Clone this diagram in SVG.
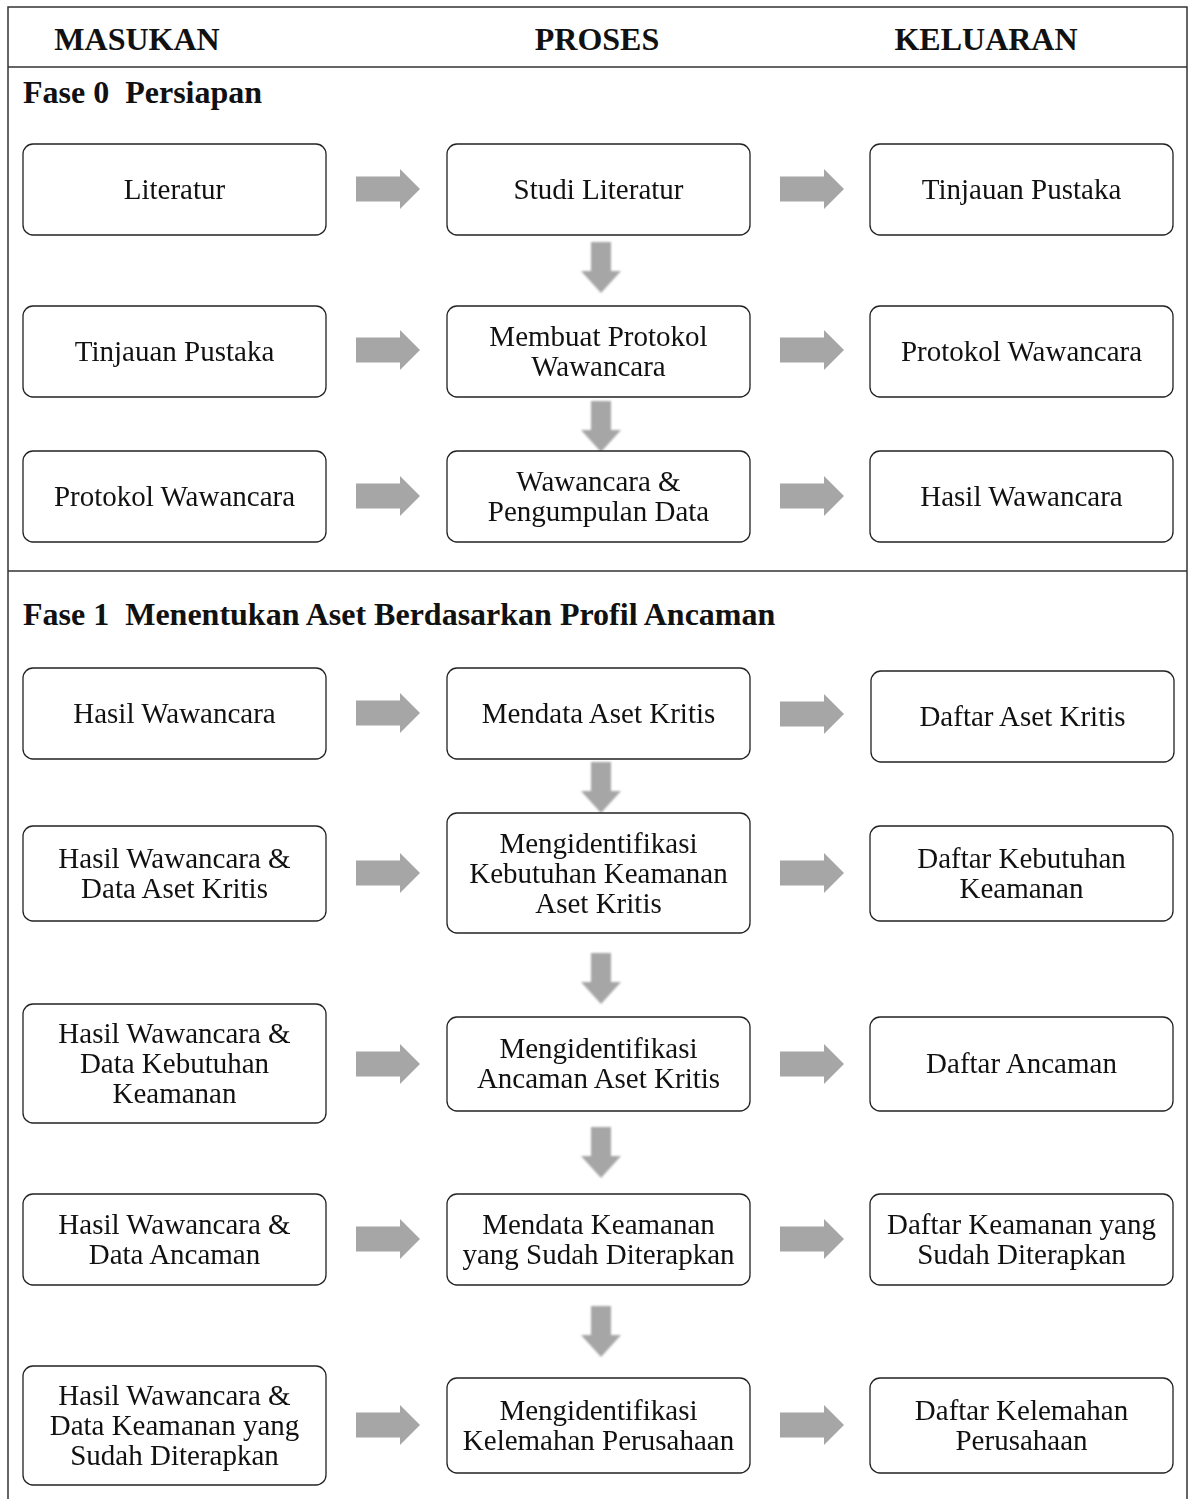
<svg xmlns="http://www.w3.org/2000/svg" xmlns:xlink="http://www.w3.org/1999/xlink" width="1195" height="1499" viewBox="0 0 1195 1499">
<style>
.frame{stroke:#333;stroke-width:1.5;fill:none}
.box{fill:#fff;stroke:#222;stroke-width:1.3}
.t{font-family:"Liberation Serif","Times New Roman",serif;font-size:29px;fill:#111;text-anchor:middle}
.h{font-family:"Liberation Serif","Times New Roman",serif;font-size:32px;font-weight:bold;fill:#111;text-anchor:middle}
.f{font-family:"Liberation Serif","Times New Roman",serif;font-size:32px;font-weight:bold;fill:#111}
.arr{fill:#a6a6a6}
</style>
<defs>
<path id="ra" d="M0,-12.5 H44 V-20 L64,0 L44,20 V12.5 H0 Z"/>
<path id="da" d="M-10,0 H10 V29 H20 L0,51 L-20,29 H-10 Z"/>
<filter id="soft" x="-30%" y="-30%" width="160%" height="160%"><feGaussianBlur stdDeviation="1.2"/></filter>
</defs>
<rect width="1195" height="1499" fill="#fff"/>
<g id="frame">
<path class="frame" d="M8,1499 V7 H1187 V1499 M8,67 H1187 M8,571 H1187"/>
<text class="h" x="137" y="50">MASUKAN</text>
<text class="h" x="597" y="50">PROSES</text>
<text class="h" x="986" y="50">KELUARAN</text>
<text class="f" x="23" y="103" xml:space="preserve">Fase 0  Persiapan</text>
<text class="f" x="23" y="625" xml:space="preserve">Fase 1  Menentukan Aset Berdasarkan Profil Ancaman</text>
</g>
<g id="connectors" class="arr">
<use xlink:href="#ra" x="356" y="189"/><use xlink:href="#ra" x="780" y="189"/>
<use xlink:href="#ra" x="356" y="350"/><use xlink:href="#ra" x="780" y="350"/>
<use xlink:href="#ra" x="356" y="496"/><use xlink:href="#ra" x="780" y="496"/>
<use xlink:href="#ra" x="356" y="713"/><use xlink:href="#ra" x="780" y="714"/>
<use xlink:href="#ra" x="356" y="873"/><use xlink:href="#ra" x="780" y="873"/>
<use xlink:href="#ra" x="356" y="1064"/><use xlink:href="#ra" x="780" y="1064"/>
<use xlink:href="#ra" x="356" y="1239"/><use xlink:href="#ra" x="780" y="1239"/>
<use xlink:href="#ra" x="356" y="1425"/><use xlink:href="#ra" x="780" y="1425"/>
<g filter="url(#soft)">
<use xlink:href="#da" x="601" y="242"/>
<use xlink:href="#da" x="601" y="401"/>
<use xlink:href="#da" x="601" y="762"/>
<use xlink:href="#da" x="601" y="953"/>
<use xlink:href="#da" x="601" y="1127"/>
<use xlink:href="#da" x="601" y="1306"/>
</g>
</g>
<g id="p0-in1"><rect class="box" x="23" y="144" width="303" height="91" rx="10"/><text class="t" x="174.5" y="199">Literatur</text></g>
<g id="p0-pr1"><rect class="box" x="447" y="144" width="303" height="91" rx="10"/><text class="t" x="598.5" y="199">Studi Literatur</text></g>
<g id="p0-out1"><rect class="box" x="870" y="144" width="303" height="91" rx="10"/><text class="t" x="1021.5" y="199">Tinjauan Pustaka</text></g>
<g id="p0-in2"><rect class="box" x="23" y="306" width="303" height="91" rx="10"/><text class="t" x="174.5" y="361">Tinjauan Pustaka</text></g>
<g id="p0-pr2"><rect class="box" x="447" y="306" width="303" height="91" rx="10"/><text class="t" x="598.5" y="346">Membuat Protokol</text><text class="t" x="598.5" y="376">Wawancara</text></g>
<g id="p0-out2"><rect class="box" x="870" y="306" width="303" height="91" rx="10"/><text class="t" x="1021.5" y="361">Protokol Wawancara</text></g>
<g id="p0-in3"><rect class="box" x="23" y="451" width="303" height="91" rx="10"/><text class="t" x="174.5" y="506">Protokol Wawancara</text></g>
<g id="p0-pr3"><rect class="box" x="447" y="451" width="303" height="91" rx="10"/><text class="t" x="598.5" y="491">Wawancara &amp;</text><text class="t" x="598.5" y="521">Pengumpulan Data</text></g>
<g id="p0-out3"><rect class="box" x="870" y="451" width="303" height="91" rx="10"/><text class="t" x="1021.5" y="506">Hasil Wawancara</text></g>
<g id="p1-in1"><rect class="box" x="23" y="668" width="303" height="91" rx="10"/><text class="t" x="174.5" y="723">Hasil Wawancara</text></g>
<g id="p1-pr1"><rect class="box" x="447" y="668" width="303" height="91" rx="10"/><text class="t" x="598.5" y="723">Mendata Aset Kritis</text></g>
<g id="p1-out1"><rect class="box" x="871" y="671" width="303" height="91" rx="10"/><text class="t" x="1022.5" y="726">Daftar Aset Kritis</text></g>
<g id="p1-in2"><rect class="box" x="23" y="826" width="303" height="95" rx="10"/><text class="t" x="174.5" y="868">Hasil Wawancara &amp;</text><text class="t" x="174.5" y="898">Data Aset Kritis</text></g>
<g id="p1-pr2"><rect class="box" x="447" y="813" width="303" height="120" rx="10"/><text class="t" x="598.5" y="853">Mengidentifikasi</text><text class="t" x="598.5" y="883">Kebutuhan Keamanan</text><text class="t" x="598.5" y="913">Aset Kritis</text></g>
<g id="p1-out2"><rect class="box" x="870" y="826" width="303" height="95" rx="10"/><text class="t" x="1021.5" y="868">Daftar Kebutuhan</text><text class="t" x="1021.5" y="898">Keamanan</text></g>
<g id="p1-in3"><rect class="box" x="23" y="1004" width="303" height="119" rx="10"/><text class="t" x="174.5" y="1043">Hasil Wawancara &amp;</text><text class="t" x="174.5" y="1073">Data Kebutuhan</text><text class="t" x="174.5" y="1103">Keamanan</text></g>
<g id="p1-pr3"><rect class="box" x="447" y="1017" width="303" height="94" rx="10"/><text class="t" x="598.5" y="1058">Mengidentifikasi</text><text class="t" x="598.5" y="1088">Ancaman Aset Kritis</text></g>
<g id="p1-out3"><rect class="box" x="870" y="1017" width="303" height="94" rx="10"/><text class="t" x="1021.5" y="1073">Daftar Ancaman</text></g>
<g id="p1-in4"><rect class="box" x="23" y="1194" width="303" height="91" rx="10"/><text class="t" x="174.5" y="1234">Hasil Wawancara &amp;</text><text class="t" x="174.5" y="1264">Data Ancaman</text></g>
<g id="p1-pr4"><rect class="box" x="447" y="1194" width="303" height="91" rx="10"/><text class="t" x="598.5" y="1234">Mendata Keamanan</text><text class="t" x="598.5" y="1264">yang Sudah Diterapkan</text></g>
<g id="p1-out4"><rect class="box" x="870" y="1194" width="303" height="91" rx="10"/><text class="t" x="1021.5" y="1234">Daftar Keamanan yang</text><text class="t" x="1021.5" y="1264">Sudah Diterapkan</text></g>
<g id="p1-in5"><rect class="box" x="23" y="1366" width="303" height="119" rx="10"/><text class="t" x="174.5" y="1405">Hasil Wawancara &amp;</text><text class="t" x="174.5" y="1435">Data Keamanan yang</text><text class="t" x="174.5" y="1465">Sudah Diterapkan</text></g>
<g id="p1-pr5"><rect class="box" x="447" y="1378" width="303" height="95" rx="10"/><text class="t" x="598.5" y="1420">Mengidentifikasi</text><text class="t" x="598.5" y="1450">Kelemahan Perusahaan</text></g>
<g id="p1-out5"><rect class="box" x="870" y="1378" width="303" height="95" rx="10"/><text class="t" x="1021.5" y="1420">Daftar Kelemahan</text><text class="t" x="1021.5" y="1450">Perusahaan</text></g>
</svg>
